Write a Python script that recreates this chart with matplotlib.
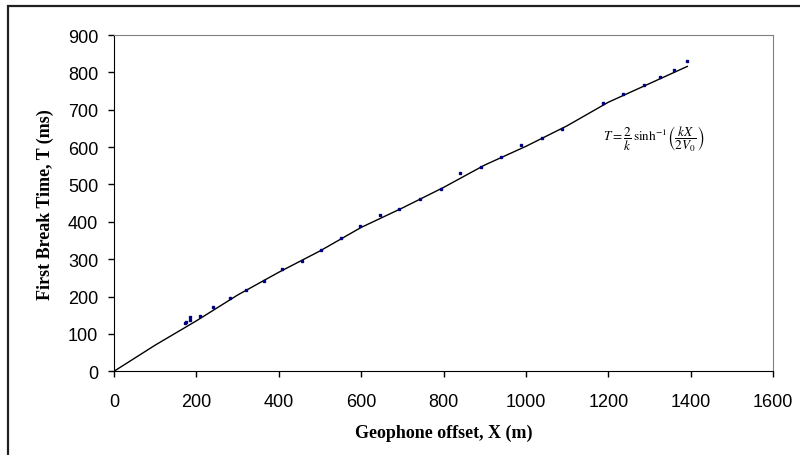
# First break time vs geophone offset
import matplotlib
matplotlib.use("Agg")
import matplotlib.pyplot as plt
from matplotlib.patches import Rectangle

# datos
offset = [0, 172, 174, 185, 185, 209, 241, 282, 321, 365, 408, 457, 503, 552, 597,
          645, 693, 742, 793, 841, 890, 939, 987, 1038, 1088, 1187, 1235, 1287,
          1326, 1360, 1392]
tiempo = [0, 129, 132, 144, 138, 149, 171, 196, 218, 241, 274, 295, 325, 357, 389,
          419, 435, 461, 489, 531, 548, 573, 605, 625, 649, 717, 743, 766,
          787, 806, 830]

# curva ajustada
curva_x = [0, 100, 200, 300, 400, 500, 600, 700, 800, 900, 1000, 1100, 1200, 1300, 1392]
curva_t = [0, 70, 135, 204, 265, 322, 385, 437, 492, 552, 602, 657, 720, 770, 816]

xticks = [0, 200, 400, 600, 800, 1000, 1200, 1400, 1600]
yticks = [0, 100, 200, 300, 400, 500, 600, 700, 800, 900]

plt.rcParams["mathtext.fontset"] = "stix"

fig = plt.figure(figsize=(8, 4.56), dpi=100)
ax = fig.add_axes([0.1425, 0.1836, 0.82375, 0.7374])

ax.plot(curva_x, curva_t, color="black", linewidth=1.0)
ax.plot(offset, tiempo, linestyle="none", marker="s", markersize=2.0,
        color="#000080")

ax.set_xlim(0, 1600)
ax.set_ylim(0, 900)
ax.set_xticks(xticks)
ax.set_yticks(yticks)

tick_font = {"family": "Liberation Sans", "size": 13}
ax.set_xticklabels([str(v) for v in xticks], fontdict=tick_font)
ax.set_yticklabels([str(v) for v in yticks], fontdict=tick_font)
ax.tick_params(direction="out", length=4.3, width=1, color="black")
ax.tick_params(axis="x", pad=11)
ax.tick_params(axis="y", pad=7)

for lado in ["top", "right"]:
    ax.spines[lado].set_color("#808080")
for lado in ["left", "bottom"]:
    ax.spines[lado].set_color("black")

label_font = {"family": "Liberation Serif", "size": 13, "weight": "bold"}
ax.set_xlabel("Geophone offset, X (m)", fontdict=label_font, labelpad=10.5)
ax.set_ylabel("First Break Time, T (ms)", fontdict=label_font, labelpad=10)

# formula
ax.text(1310, 625, r"$T = \dfrac{2}{k}\,\sinh^{-1}\!\left(\dfrac{kX}{2V_0}\right)$",
        ha="center", va="center", fontsize=9.5)

# borde exterior
fig.patches.append(Rectangle((8 / 800, -0.05), 1.1, (456 - 7) / 456 + 0.05,
                             transform=fig.transFigure, fill=False,
                             edgecolor="#202020", linewidth=1.6))

fig.savefig("out.png", dpi=100)
